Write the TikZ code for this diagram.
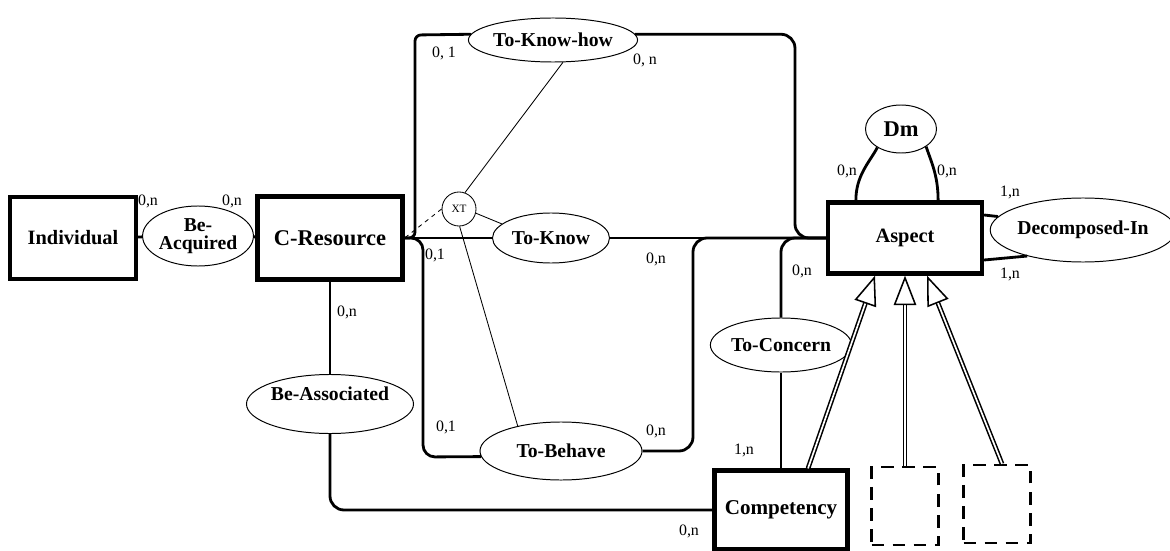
\documentclass[tikz,border=0pt]{standalone}
\usepackage{fontspec}
\setmainfont{Liberation Serif}
\usetikzlibrary{positioning,arrows.meta,calc,shapes.geometric}

\begin{document}
\begin{tikzpicture}[x=0.025cm,y=-0.025cm,
  entity/.style={draw,line width=3pt,inner sep=0pt,font=\fontsize{14.5}{16}\selectfont\bfseries},
  relation/.style={draw,ellipse,line width=0.7pt,inner sep=0pt,fill=white,font=\fontsize{14}{13.2}\selectfont\bfseries,align=center},
  link/.style={line width=2pt,rounded corners=0.35cm},
  xtlink/.style={line width=0.6pt},
  card/.style={inner sep=0pt,font=\fontsize{11.3}{13}\selectfont},
  isa/.style={double,double distance=1.2pt,line width=1.1pt,-{Triangle[open,length=21pt,width=16pt,line width=1.1pt]}},
  ghost/.style={draw,line width=1.6pt,dash pattern=on 9pt off 6pt,minimum width=1.675cm,minimum height=1.95cm}]
\useasboundingbox (0,0) rectangle (1170,551);
% entities
\node[entity,minimum width=3.15cm,minimum height=2.05cm] (ind) at (73,238){Individual};
\node[entity,minimum width=3.625cm,minimum height=2.075cm,font=\fontsize{16}{18}\selectfont\bfseries] (cres) at (330,238){C-Resource};
\node[entity,minimum width=3.85cm,minimum height=1.775cm] (asp) at (905,238){Aspect};
\node[entity,minimum width=3.325cm,minimum height=1.975cm,font=\fontsize{15}{17}\selectfont\bfseries] (comp) at (781,510){Competency};
\node[ghost] (sub1) at (905,506){};
\node[ghost] (sub2) at (997,504){};
% relations
\node[relation,minimum width=2.375cm,minimum height=1.5cm] (beacq) at (198,236){Be-\\Acquired};
\node[relation,minimum width=3.675cm,minimum height=1.1cm] (tkh) at (553,40){To-Know-how};
\node[relation,minimum width=2.925cm,minimum height=1.25cm] (tk) at (551,238){To-Know};
\node[relation,minimum width=4.05cm,minimum height=1.45cm] (tb) at (561,451){To-Behave};
\node[relation,minimum width=3.85cm,minimum height=1.475cm] (bass) at (330,404){\raisebox{15pt}{Be-Associated}};
\node[relation,minimum width=3.125cm,minimum height=1.35cm] (tc) at (781,345){To-Concern};
\node[relation,minimum width=1.775cm,minimum height=1.2cm,font=\fontsize{16}{18}\selectfont\bfseries] (dm) at (901,129){Dm};
\node[relation,minimum width=4.3cm,minimum height=1.6cm] (dec) at (1083,230){Decomposed-In};
\node[draw,circle,line width=0.6pt,inner sep=0pt,minimum size=0.85cm,font=\fontsize{8}{9}\selectfont] (xt) at (459,209){XT};
% links
\draw[link] (ind) -- (beacq);\draw[link] (beacq) -- (cres);
\draw[link] (cres.east) -- (tk.west);\draw[link] (tk.east) -- (asp.west);
\draw[link,rounded corners=0.15cm] (cres.east) -| (415,35) -- (tkh.176);
\draw[link] (tkh.4) -| (795,238) -- (asp.west);
\draw[link,rounded corners=0.3cm] (cres.east) -| (423,457) -- (tb.184);
\draw[link] (tb.east) -| (693,238) -- (asp.west);
\draw[link] (comp.north) -- (tc.south);\draw[link] (tc.north) |- (asp.west);
\draw[link] (cres.south) -- (bass.north);\draw[link] (bass.south) |- (comp.west);
\draw[link] (dm.218) .. controls +(-8,15) and +(0,-25) .. ([xshift=0.75cm]asp.north west);
\draw[link] (dm.325) .. controls +(5,15) and +(0,-25) .. ([xshift=-1.15cm]asp.north east);
\draw[link] ([yshift=0.575cm]asp.east) -- (dec.171);\draw[link] ([yshift=-0.55cm]asp.east) -- (dec.205);
% exclusion
\draw[xtlink] (xt.70) -- (tkh.294);\draw[xtlink] (xt.346) -- (tk.164);\draw[xtlink] (xt.272) -- (tb.150);
\draw[xtlink,dashed] (xt.west) -- (cres.east);
% specialisation
\draw[isa] ([xshift=0.675cm]comp.north) -- ([xshift=-0.75cm]asp.south);
\draw[isa] (sub1.north) -- (asp.south);
\draw[isa] ([xshift=0.125cm]sub2.north) -- ([xshift=0.55cm]asp.south);
% cardinalities
\node[card] (c1) at (148,201){0,n};\node[card] (c2) at (232,201){0,n};
\node[card] (c3) at (347,312){0,n};
\node[card] (c4) at (444,53){0, 1};\node[card] (c5) at (645,60){0, n};
\node[card] (c6) at (435,255){0,1};\node[card] (c7) at (656,259){0,n};
\node[card] (c8) at (802,271){0,n};
\node[card] (c9) at (446,427){0,1};\node[card] (c10) at (656,431){0,n};
\node[card] (c11) at (744,450){1,n};\node[card] (c12) at (689,531){0,n};
\node[card] (c13) at (847,171){0,n};\node[card] (c14) at (947,171){0,n};
\node[card] (c15) at (1010,192){1,n};\node[card] (c16) at (1010,274){1,n};
\end{tikzpicture}
\end{document}
